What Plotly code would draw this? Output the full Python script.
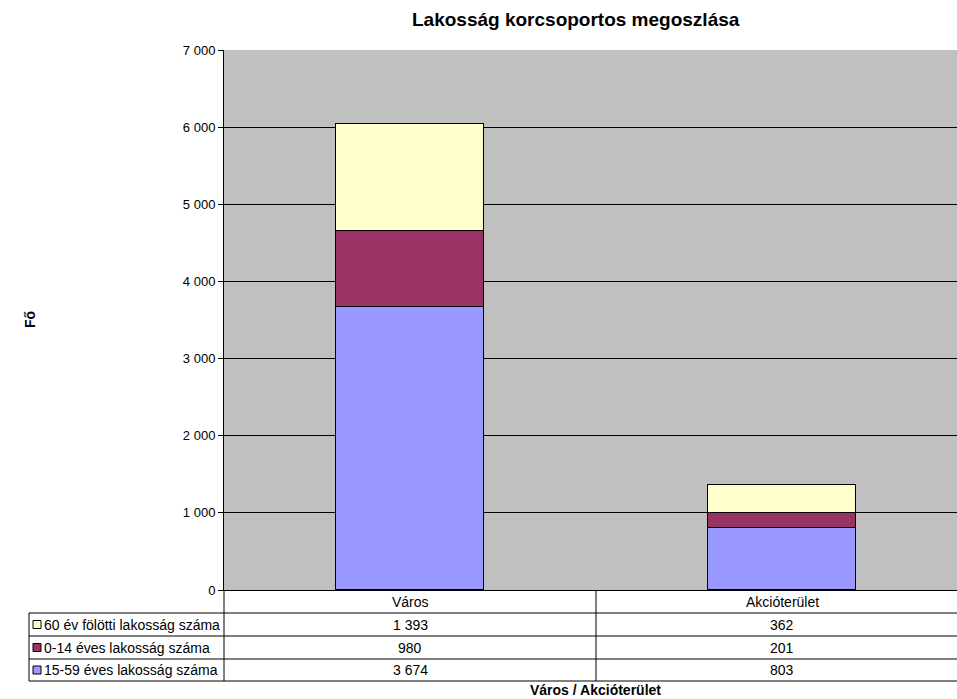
import plotly.graph_objects as go

categories = ["Város", "Akcióterület"]
series_names = ["15-59 éves lakosság száma", "0-14 éves lakosság száma", "60 év fölötti lakosság száma"]
v_15_59 = [3674, 803]
v_0_14 = [980, 201]
v_60 = [1393, 362]
colors = ["#9999FF", "#993366", "#FFFFCC"]
y_ticks = [0, 1000, 2000, 3000, 4000, 5000, 6000, 7000]
y_tick_labels = ["0", "1 000", "2 000", "3 000", "4 000", "5 000", "6 000", "7 000"]

W, H = 957, 699
L, T, B = 224, 50, 109
plot_w = W - L
plot_h = H - T - B
FONT = "Liberation Sans, Arial, sans-serif"

def px_x(x):
    return (x - L) / plot_w

def px_y(y):
    return (H - B - y) / plot_h

def fmt(v):
    return f"{v:,}".replace(",", " ")

fig = go.Figure()
series_vals = [v_15_59, v_0_14, v_60]
xs = [0, 1]
for name, vals, col in zip(series_names, series_vals, colors):
    fig.add_trace(go.Bar(x=xs, y=vals, name=name, width=0.4,
                         marker=dict(color=col, line=dict(color="black", width=1)),
                         showlegend=False))

slot = 372
xr_right = -0.5 + (W - L) / slot

shapes = []
annotations = []
line = dict(color="black", width=1)
row_lines = [613, 636, 659, 681]
tbl_left = 29
for ry in row_lines:
    shapes.append(dict(type="line", xref="paper", yref="paper", x0=px_x(tbl_left), x1=1.0,
                       y0=px_y(ry), y1=px_y(ry), line=line))
shapes.append(dict(type="line", xref="paper", yref="paper", x0=px_x(tbl_left), x1=px_x(tbl_left),
                   y0=px_y(613), y1=px_y(681), line=line))
shapes.append(dict(type="line", xref="paper", yref="paper", x0=0, x1=0,
                   y0=0, y1=px_y(681), line=line))
shapes.append(dict(type="line", xref="x", yref="paper", x0=0.5, x1=0.5,
                   y0=0, y1=px_y(681), line=line))

TF = 14
for i, c in enumerate(categories):
    annotations.append(dict(x=xs[i], xref="x", y=px_y(601.5), yref="paper", text=c,
                            xanchor="center", yanchor="middle",
                            showarrow=False, font=dict(size=TF, color="black", family=FONT)))

row_order = [2, 1, 0]
row_centers = [624.5, 647.5, 670]
for rc, si in zip(row_centers, row_order):
    shapes.append(dict(type="rect", xref="paper", yref="paper",
                       x0=px_x(33), x1=px_x(41), y0=px_y(rc - 4), y1=px_y(rc + 4),
                       fillcolor=colors[si], line=dict(color="black", width=1)))
    annotations.append(dict(x=px_x(42), xref="paper", y=px_y(rc), yref="paper",
                            text=series_names[si], xanchor="left", yanchor="middle",
                            showarrow=False,
                            font=dict(size=TF, color="black", family=FONT)))
    for i in range(2):
        annotations.append(dict(x=xs[i], xref="x", y=px_y(rc), yref="paper",
                                text=fmt(series_vals[si][i]), showarrow=False,
                                xanchor="center", yanchor="middle",
                                font=dict(size=TF, color="black", family=FONT)))

annotations.append(dict(x=px_x(575.5), xref="paper", y=px_y(20), yref="paper",
                        text="<b>Lakosság korcsoportos megoszlása</b>", showarrow=False,
                        xanchor="center", yanchor="middle",
                        font=dict(size=19, color="black", family=FONT)))
annotations.append(dict(x=px_x(595), xref="paper", y=px_y(690), yref="paper",
                        text="<b>Város / Akcióterület</b>", showarrow=False,
                        xanchor="center", yanchor="middle",
                        font=dict(size=14, color="black", family=FONT)))
annotations.append(dict(x=px_x(30), xref="paper", y=px_y(320), yref="paper",
                        text="<b>Fő</b>", showarrow=False, textangle=-90,
                        xanchor="center", yanchor="middle",
                        font=dict(size=14, color="black", family=FONT)))

fig.update_layout(
    width=W, height=H,
    margin=dict(l=L, r=0, t=T, b=B, pad=0),
    paper_bgcolor="white", plot_bgcolor="#C0C0C0",
    barmode="stack", bargap=0,
    font=dict(family=FONT, size=13, color="black"),
    shapes=shapes, annotations=annotations,
    xaxis=dict(range=[-0.5, xr_right], showticklabels=False, showgrid=False,
               showline=True, linecolor="black", linewidth=1, zeroline=False,
               ticks="", fixedrange=True),
    yaxis=dict(range=[0, 7000], tickvals=y_ticks, ticktext=y_tick_labels,
               showgrid=True, gridcolor="black", gridwidth=1,
               showline=True, linecolor="black", linewidth=1,
               ticks="outside", ticklen=5, tickcolor="black",
               zeroline=False, tickfont=dict(size=13, color="black", family=FONT)),
)
fig.write_html("out.html", config={"displayModeBar": False},
               post_script="document.body.style.margin='0';document.body.style.overflow='hidden';")
